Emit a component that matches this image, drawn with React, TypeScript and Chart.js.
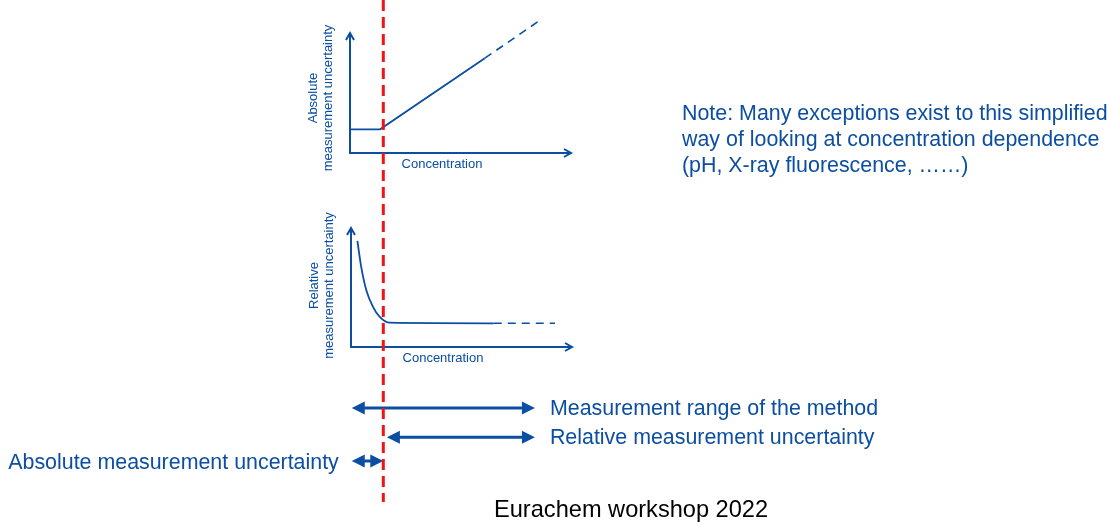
import { useEffect, useRef } from "react";
import { Chart, registerables } from "chart.js";

Chart.register(...registerables);

// ---------- data ----------
const absConcentration = [0, 1.36, 6.1];
const absUncertainty = [1.97, 1.97, 7.9];
const absExtConcentration = [6.1, 8.55];
const absExtUncertainty = [7.9, 11.0];

const relConcentration = [0.29, 0.46, 0.69, 0.99, 1.29, 1.75, 6.46];
const relUncertainty = [8.91, 6.75, 4.79, 3.39, 2.55, 2.04, 1.99];
const relExtConcentration = [6.46, 9.23];
const relExtUncertainty = [1.99, 1.99];

const limitConcentration = 1.5;

const rangeLabels = [
  "Measurement range of the method",
  "Relative measurement uncertainty",
  "Absolute measurement uncertainty",
];
const rangeStart = [0.08, 1.66, 0.08];
const rangeEnd = [8.33, 8.33, 1.5];
const rangeRow = [0, 1.1, 2];

const absAxisTitle = ["Absolute", "measurement uncertainty"];
const relAxisTitle = ["Relative", "measurement uncertainty"];
const xAxisTitle = "Concentration";

const noteLines = [
  "Note: Many exceptions exist to this simplified",
  "way of looking at concentration dependence",
  "(pH, X-ray fluorescence, \u2026\u2026)",
];
const footerText = "Eurachem workshop 2022";

// ---------- styles ----------
const BLUE = "#0b4ea2";
const RED = "#f01414";
const FONT = "'Liberation Sans', Arial, sans-serif";
const W = 1110;
const H = 524;

function pts(xs: number[], ys: number[]) {
  return xs.map((x, i) => ({ x, y: ys[i] }));
}

function subplotPlugin(title: string[], titleShift: number) {
  return {
    id: "subplotAxes",
    beforeDatasetsDraw(chart: any) {
      const { ctx, chartArea } = chart;
      const { left, right, top, bottom } = chartArea;
      ctx.save();
      ctx.strokeStyle = BLUE;
      ctx.lineWidth = 2;
      ctx.lineCap = "butt";
      ctx.beginPath();
      ctx.moveTo(left, bottom);
      ctx.lineTo(left, top + 1);
      ctx.moveTo(left - 1, bottom);
      ctx.lineTo(right - 1, bottom);
      ctx.stroke();
      ctx.lineJoin = "miter";
      ctx.beginPath();
      ctx.moveTo(left - 4, top + 7);
      ctx.lineTo(left, top);
      ctx.lineTo(left + 4, top + 7);
      ctx.moveTo(right - 7, bottom - 4);
      ctx.lineTo(right, bottom);
      ctx.lineTo(right - 7, bottom + 4);
      ctx.stroke();

      ctx.fillStyle = BLUE;
      ctx.font = `13px ${FONT}`;
      ctx.textAlign = "center";
      ctx.textBaseline = "middle";
      ctx.fillText(xAxisTitle, left + 92, bottom + 11);

      const cy = (top + bottom) / 2 + titleShift;
      ctx.textBaseline = "alphabetic";
      title.forEach((t, i) => {
        ctx.save();
        ctx.translate(left - 33 + i * 15, cy);
        ctx.rotate(-Math.PI / 2);
        ctx.fillText(t, 0, 0);
        ctx.restore();
      });
      ctx.restore();
    },
  };
}

function subplotConfig(
  solid: { x: number; y: number }[],
  dashed: { x: number; y: number }[],
  padding: any,
  title: string[],
  titleShift: number,
  smooth: boolean
): any {
  return {
    type: "line",
    data: {
      datasets: [
        {
          data: solid,
          borderColor: BLUE,
          borderWidth: 1.8,
          pointRadius: 0,
          fill: false,
          clip: false,
          cubicInterpolationMode: smooth ? "monotone" : "default",
          tension: smooth ? 0.4 : 0,
        },
        {
          data: dashed,
          borderColor: BLUE,
          borderWidth: 1.6,
          borderDash: [8, 6],
          pointRadius: 0,
          fill: false,
          clip: false,
        },
      ],
    },
    options: {
      responsive: false,
      animation: false,
      devicePixelRatio: 1,
      layout: { padding },
      plugins: { legend: { display: false }, tooltip: { enabled: false }, title: { display: false } },
      events: [],
      scales: {
        x: { type: "linear", min: 0, max: 10, display: false },
        y: { type: "linear", min: 0, max: 10, display: false },
      },
    },
    plugins: [subplotPlugin(title, titleShift)],
  };
}

const overlayPlugin = {
  id: "overlayDecor",
  afterDatasetsDraw(chart: any) {
    const { ctx, scales } = chart;
    ctx.save();
    // range arrows
    chart.data.datasets.forEach((ds: any, i: number) => {
      const meta = chart.getDatasetMeta(i);
      const p0 = meta.data[0];
      const p1 = meta.data[1];
      const y = p0.y;
      const hl = 13;
      const hw = 6.5;
      ctx.strokeStyle = BLUE;
      ctx.fillStyle = BLUE;
      ctx.lineWidth = 3;
      ctx.beginPath();
      ctx.moveTo(p0.x + hl - 1, y);
      ctx.lineTo(p1.x - hl + 1, y);
      ctx.stroke();
      ctx.beginPath();
      ctx.moveTo(p0.x, y);
      ctx.lineTo(p0.x + hl, y - hw);
      ctx.lineTo(p0.x + hl, y + hw);
      ctx.closePath();
      ctx.fill();
      ctx.beginPath();
      ctx.moveTo(p1.x, y);
      ctx.lineTo(p1.x - hl, y - hw);
      ctx.lineTo(p1.x - hl, y + hw);
      ctx.closePath();
      ctx.fill();

      ctx.font = `21.4px ${FONT}`;
      ctx.textBaseline = "alphabetic";
      if (i < 2) {
        ctx.textAlign = "left";
        ctx.fillText(ds.label, p1.x + 15, y + 7);
      } else {
        ctx.textAlign = "right";
        ctx.fillText(ds.label, p0.x - 13, y + 8);
      }
    });

    // limit line
    const lx = scales.x.getPixelForValue(limitConcentration);
    ctx.strokeStyle = RED;
    ctx.lineWidth = 3;
    ctx.setLineDash([11, 6]);
    ctx.beginPath();
    ctx.moveTo(lx, 0);
    ctx.lineTo(lx, 502);
    ctx.stroke();
    ctx.setLineDash([]);

    // note
    ctx.fillStyle = BLUE;
    ctx.font = `21.4px ${FONT}`;
    ctx.textAlign = "left";
    noteLines.forEach((t, i) => ctx.fillText(t, 682, 120 + i * 26));

    // footer
    ctx.fillStyle = "#000";
    ctx.font = `23.6px ${FONT}`;
    ctx.textAlign = "left";
    ctx.fillText(footerText, 494, 517);
    ctx.restore();
  },
};

function overlayConfig(): any {
  return {
    type: "line",
    data: {
      datasets: rangeLabels.map((label, i) => ({
        label,
        data: [
          { x: rangeStart[i], y: rangeRow[i] },
          { x: rangeEnd[i], y: rangeRow[i] },
        ],
        showLine: false,
        pointRadius: 0,
        borderColor: BLUE,
      })),
    },
    options: {
      responsive: false,
      animation: false,
      devicePixelRatio: 1,
      layout: { padding: { left: 350, right: W - 572, top: 408, bottom: H - 461 } },
      plugins: { legend: { display: false }, tooltip: { enabled: false }, title: { display: false } },
      events: [],
      scales: {
        x: { type: "linear", min: 0, max: 10, display: false },
        y: { type: "linear", min: 0, max: 2, reverse: true, display: false },
      },
    },
    plugins: [overlayPlugin],
  };
}

export default function App() {
  const absRef = useRef<HTMLCanvasElement>(null);
  const relRef = useRef<HTMLCanvasElement>(null);
  const ovRef = useRef<HTMLCanvasElement>(null);

  useEffect(() => {
    const charts: Chart[] = [];
    if (absRef.current) {
      charts.push(
        new Chart(
          absRef.current,
          subplotConfig(
            pts(absConcentration, absUncertainty),
            pts(absExtConcentration, absExtUncertainty),
            { left: 350, right: W - 571, top: 33, bottom: H - 153 },
            absAxisTitle,
            5,
            false
          )
        )
      );
    }
    if (relRef.current) {
      charts.push(
        new Chart(
          relRef.current,
          subplotConfig(
            pts(relConcentration, relUncertainty),
            pts(relExtConcentration, relExtUncertainty),
            { left: 351, right: W - 572, top: 228, bottom: H - 347 },
            relAxisTitle,
            -2,
            true
          )
        )
      );
    }
    if (ovRef.current) {
      charts.push(new Chart(ovRef.current, overlayConfig()));
    }
    return () => charts.forEach((c) => c.destroy());
  }, []);

  const cs: any = { position: "absolute", left: 0, top: 0, width: W, height: H };
  return (
    <div style={{ position: "absolute", left: 0, top: 0, width: W, height: H, background: "#fff" }}>
      <canvas ref={absRef} width={W} height={H} style={cs} />
      <canvas ref={relRef} width={W} height={H} style={cs} />
      <canvas ref={ovRef} width={W} height={H} style={cs} />
    </div>
  );
}
